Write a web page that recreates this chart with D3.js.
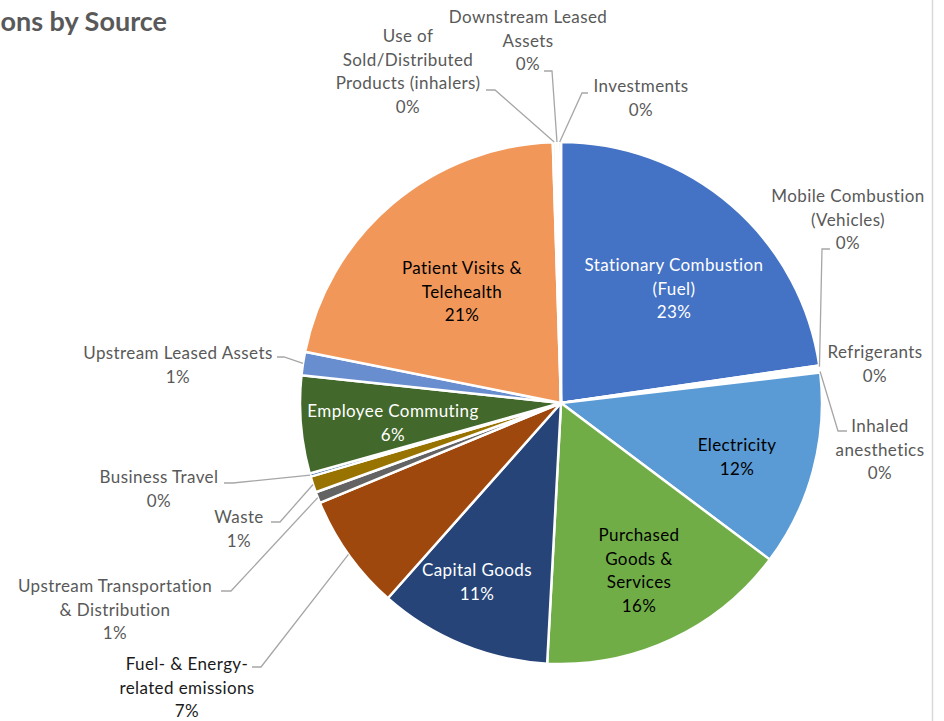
<!DOCTYPE html>
<html>
<head>
<meta charset="utf-8">
<script src="https://cdn.jsdelivr.net/npm/d3@7"></script>
<style>
  body { margin: 0; background: #fff; }
  svg { display: block; font-family: Lato, "Open Sans", sans-serif; }
</style>
</head>
<body>
<svg id="chart" width="944" height="721"></svg>
<script>
// emissions share per source, in percent
const categories = [
  "Stationary Combustion (Fuel)", "Mobile Combustion (Vehicles)", "Refrigerants",
  "Inhaled anesthetics", "Electricity", "Purchased Goods & Services", "Capital Goods",
  "Fuel- & Energy-related emissions", "Upstream Transportation & Distribution", "Waste",
  "Business Travel", "Employee Commuting", "Upstream Leased Assets",
  "Patient Visits & Telehealth", "Use of Sold/Distributed Products (inhalers)",
  "Downstream Leased Assets", "Investments"
];
const values = [22.7, 0.15, 0.15, 0.14, 12.1, 15.6, 10.7, 7.2, 0.7, 1.0, 0.2, 6.05, 1.45, 21.35, 0.17, 0.17, 0.16];
const colors = [
  "#4472C4", "#ED7D31", "#A5A5A5", "#FFC000", "#5B9BD5", "#70AD47", "#264478",
  "#9E480E", "#636363", "#997300", "#255E91", "#43682B", "#698ED0", "#F1975A",
  "#B7B7B7", "#FFCD33", "#7CAFDD"
];

// label placement (text centre x, first baseline y, line breaks, leader start + elbow)
const labelLayout = {
  "Stationary Combustion (Fuel)": { x: 674, y: 271, lines: ["Stationary Combustion", "(Fuel)"], fill: "#fff" },
  "Mobile Combustion (Vehicles)": { x: 848, y: 202, lines: ["Mobile Combustion", "(Vehicles)"], leader: [830, 249, 822] },
  "Refrigerants": { x: 875, y: 358, lines: ["Refrigerants"] },
  "Inhaled anesthetics": { x: 880, y: 432, lines: ["Inhaled", "anesthetics"], leader: [847, 431, 838] },
  "Electricity": { x: 737, y: 451, lines: ["Electricity"], fill: "#000" },
  "Purchased Goods & Services": { x: 639, y: 541, lines: ["Purchased", "Goods &", "Services"], fill: "#000" },
  "Capital Goods": { x: 477, y: 576, lines: ["Capital Goods"], fill: "#fff" },
  "Fuel- & Energy-related emissions": { x: 187, y: 670, lines: ["Fuel- & Energy-", "related emissions"], fill: "#1a1a1a", leader: [252, 667, 261] },
  "Upstream Transportation & Distribution": { x: 115, y: 592, lines: ["Upstream Transportation", "& Distribution"], leader: [221, 591, 231] },
  "Waste": { x: 239, y: 523, lines: ["Waste"], leader: [271, 522, 280] },
  "Business Travel": { x: 159, y: 483, lines: ["Business Travel"], leader: [224, 483, 233] },
  "Employee Commuting": { x: 393, y: 417, lines: ["Employee Commuting"], fill: "#fff" },
  "Upstream Leased Assets": { x: 178, y: 359, lines: ["Upstream Leased Assets"], leader: [277, 357, 284] },
  "Patient Visits & Telehealth": { x: 462, y: 274, lines: ["Patient Visits &", "Telehealth"], fill: "#000" },
  "Use of Sold/Distributed Products (inhalers)": { x: 408, y: 42, lines: ["Use of", "Sold/Distributed", "Products (inhalers)"], leader: [486, 90, 495] },
  "Downstream Leased Assets": { x: 528, y: 23, lines: ["Downstream Leased", "Assets"], leader: [544, 71, 552] },
  "Investments": { x: 641, y: 92, lines: ["Investments"], leader: [588, 93, 582] }
};

const width = 944, height = 721;
const cx = 561, cy = 403, R = 261;
const lineH = 23.5;

const svg = d3.select("#chart");

// title: only its tail is visible in the cropped source
svg.append("text")
  .attr("x", 167).attr("y", 31)
  .attr("text-anchor", "end")
  .attr("font-size", 27).attr("font-weight", "bold")
  .attr("fill", "#595959")
  .text("ons by Source");

// chart border on the right
svg.append("line")
  .attr("x1", 932.5).attr("x2", 932.5).attr("y1", 0).attr("y2", height)
  .attr("stroke", "#D9D9D9").attr("stroke-width", 1.5);

const data = categories.map((c, i) => ({ name: c, value: values[i], color: colors[i] }));
const total = d3.sum(values);

const pie = d3.pie().sort(null).value(d => d.value);
const arcs = pie(data);
const arc = d3.arc().innerRadius(0).outerRadius(R);
const rim = d3.arc().innerRadius(R).outerRadius(R);

const g = svg.append("g").attr("transform", `translate(${cx},${cy})`);

g.selectAll("path.slice")
  .data(arcs)
  .join("path")
  .attr("class", "slice")
  .attr("d", arc)
  .attr("fill", d => d.data.color)
  .attr("stroke", "#fff")
  .attr("stroke-width", 2.5)
  .attr("stroke-linejoin", "round");

// leader lines
arcs.forEach(d => {
  const lay = labelLayout[d.data.name];
  if (!lay.leader) return;
  const [px, py] = rim.centroid(d);
  const [sx, sy, ex] = lay.leader;
  svg.append("polyline")
    .attr("points", `${sx},${sy} ${ex},${sy} ${cx + px},${cy + py}`)
    .attr("fill", "none")
    .attr("stroke", "#A6A6A6")
    .attr("stroke-width", 1.3);
});

// labels: category lines + percentage
arcs.forEach(d => {
  const lay = labelLayout[d.data.name];
  const pct = Math.round(d.data.value / total * 100) + "%";
  const lines = lay.lines.concat([pct]);
  const t = svg.append("text")
    .attr("x", lay.x).attr("y", lay.y)
    .attr("text-anchor", "middle")
    .attr("font-size", 17)
    .attr("letter-spacing", 0.4)
    .attr("fill", lay.fill || "#595959");
  lines.forEach((s, i) => {
    t.append("tspan").attr("x", lay.x).attr("dy", i === 0 ? 0 : lineH).text(s);
  });
});
</script>
</body>
</html>
